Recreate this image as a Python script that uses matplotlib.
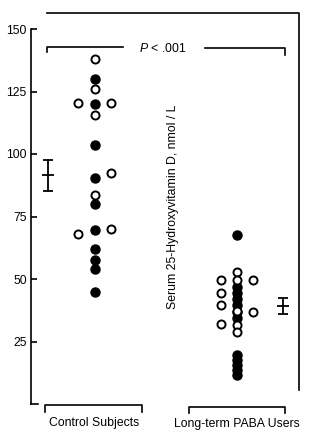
import matplotlib
matplotlib.use("Agg")
import matplotlib.pyplot as plt

plt.rcParams['font.family'] = ['Liberation Sans', 'DejaVu Sans']
plt.rcParams['mathtext.fontset'] = 'custom'
plt.rcParams['mathtext.rm'] = 'Liberation Sans'
plt.rcParams['mathtext.it'] = 'Liberation Sans:italic'

# group positions on the x axis
groups = ["Control Subjects", "Long-term PABA Users"]
group_x = [1, 2]

# control subjects (nmol/L)
control_filled = [130, 120, 103.5, 90.5, 80, 69.5, 62, 57.5, 54, 45]
control_open_mid = [138, 126, 115.5, 83.5]
control_open_left = [120.5, 68]
control_open_right = [120.5, 92.5, 70]

# long-term PABA users (nmol/L)
paba_filled = [67.5, 47, 44.5, 42, 39.5, 37, 34.5, 19.5, 17.5, 15.5, 13.5, 11.5]
paba_open_mid = [53, 49.5, 37.2, 31.5, 29]
paba_open_left = [49.5, 44.5, 39.5, 32]
paba_open_right = [49.5, 37]

# mean +/- SE
means = [91.5, 39.2]
errs = [6.3, 3.3]
mean_x = [0.673, 2.326]

yticks = [25, 50, 75, 100, 125, 150]

fig = plt.figure(figsize=(3.23, 4.41), dpi=100)
ax = fig.add_axes([31 / 323, 37 / 441, 268 / 323, 375 / 441])
ax.set_xlim(0.553, 2.438)
ax.set_ylim(0, 150)

off = 0.113
filled_kw = dict(ls='none', marker='o', ms=6.5, mfc='black', mec='black', clip_on=False, zorder=3)
open_kw = dict(ls='none', marker='o', ms=5.8, mfc='white', mec='black', mew=1.4, clip_on=False, zorder=4)

ax.plot([group_x[0]] * len(control_filled), control_filled, **filled_kw)
ax.plot([group_x[0]] * len(control_open_mid), control_open_mid, **open_kw)
ax.plot([group_x[0] - off] * len(control_open_left), control_open_left, **open_kw)
ax.plot([group_x[0] + off] * len(control_open_right), control_open_right, **open_kw)

ax.plot([group_x[1]] * len(paba_filled), paba_filled, **filled_kw)
ax.plot([group_x[1]] * len(paba_open_mid), paba_open_mid, **open_kw)
ax.plot([group_x[1] - off] * len(paba_open_left), paba_open_left, **open_kw)
ax.plot([group_x[1] + off] * len(paba_open_right), paba_open_right, **open_kw)

ax.errorbar(mean_x, means, yerr=errs, fmt='_', color='black', ms=9, mew=1.3,
            elinewidth=1.3, capsize=3.3, capthick=1.3)

# axis styling
for s in ['top', 'right', 'bottom']:
    ax.spines[s].set_visible(False)
ax.spines['left'].set_linewidth(1.2)
ax.set_xticks([])
ax.set_yticks(yticks)
ax.tick_params(axis='y', direction='in', length=4, width=1.2, pad=3, labelsize=8.7)
ax.plot([0.553, 0.600], [0, 0], color='black', lw=1.2, clip_on=False)

# P value bracket
ax.plot([0.666, 0.666, 1.20], [140.8, 142.8, 142.8], color='black', lw=1.2, clip_on=False)
ax.plot([1.777, 2.34, 2.34], [142.6, 142.6, 139.6], color='black', lw=1.2, clip_on=False)
ax.text(1.482, 142.4, r'$P$ < .001', ha='center', va='center', fontsize=8.8)

# group brackets and labels
ax.plot([0.652, 0.652, 1.334, 1.334], [-3.2, -0.4, -0.4, -3.2], color='black', lw=1.2, clip_on=False)
ax.plot([1.665, 1.665, 2.34, 2.34], [-3.6, -1.2, -1.2, -3.6], color='black', lw=1.2, clip_on=False)
ax.text(group_x[0], -7.6, groups[0], ha='center', va='center', fontsize=8.8)
ax.text(group_x[1], -8.0, groups[1], ha='center', va='center', fontsize=8.8)

# y label placed inside the plot
ax.text(1.552, 78.8, 'Serum 25-Hydroxyvitamin D, nmol / L', rotation=90,
        ha='center', va='center', fontsize=8.8)

# outer frame lines from the original figure
ax.plot([0.666, 2.438, 2.438], [156.4, 156.4, 5.6], color='black', lw=1.2, clip_on=False)

fig.savefig("out.png", dpi=100)
